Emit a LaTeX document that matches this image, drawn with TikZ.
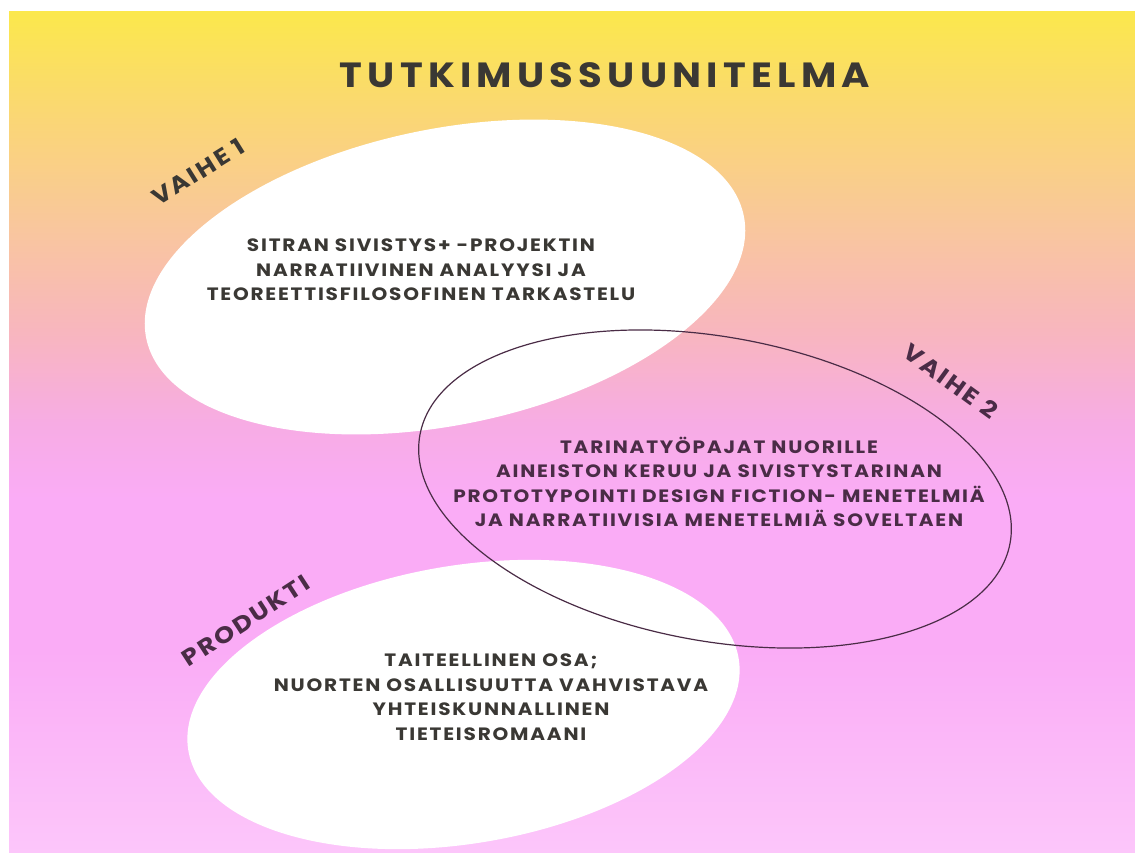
\documentclass[tikz,border=0pt]{standalone}
\usepackage{fontspec}
\newfontfamily\titlefont[LetterSpace=15,FakeStretch=1.1]{Poppins}
\newfontfamily\boxfont[LetterSpace=10,FakeStretch=1.12]{Poppins}
\newfontfamily\phasefont[LetterSpace=10,FakeStretch=1.12]{Poppins}
\definecolor{inkgrey}{RGB}{58,56,52}
\definecolor{inkplum}{RGB}{74,44,70}
\definecolor{bgyellow}{RGB}{251,232,76}
\definecolor{bgsand}{RGB}{250,214,118}
\definecolor{bgpeach}{RGB}{249,198,158}
\definecolor{bgrose}{RGB}{248,182,190}
\definecolor{bgorchid}{RGB}{247,172,228}
\definecolor{bgpink}{RGB}{250,172,246}
\definecolor{bglight}{RGB}{252,198,250}
% the path is fitted to 25bp..75bp of the shading
\pgfdeclareverticalshading{bgfade}{100bp}{color(0bp)=(bglight); color(25bp)=(bglight); color(37bp)=(bgpink); color(46bp)=(bgpink); color(50.5bp)=(bgorchid); color(56bp)=(bgrose); color(62bp)=(bgpeach); color(68.5bp)=(bgsand); color(75bp)=(bgyellow); color(100bp)=(bgyellow)}
\begin{document}
\begin{tikzpicture}[x=1pt,y=1pt,line join=round,line cap=round]
    \tikzset{box text/.style={font=\boxfont\bfseries\fontsize{17.9}{24.5}\selectfont,align=center,text=inkgrey},
        phase/.style={font=\phasefont\bfseries\fontsize{23}{23}\selectfont,text=inkgrey,inner sep=0pt}}
    \useasboundingbox (0,0) rectangle (1135,-852);
    \fill[white] (0,0) rectangle (1135,-852);
    \shade[shading=bgfade] (9,-11) rectangle (1135,-852);
    \begin{scope}
        \clip (9,-11) rectangle (1135,-852);
        \fill[white,rotate around={11.6:(445,-277)}] (445,-277) ellipse (305 and 148);
        \fill[white,rotate around={9.5:(463.5,-704.5)}] (463.5,-704.5) ellipse (279 and 139);
        \draw[inkplum,line width=1.2pt,rotate around={-10.4:(715,-489)}] (715,-489) ellipse (300 and 152);
    \end{scope}
    \node[font=\titlefont\bfseries\fontsize{35}{35}\selectfont,text=inkgrey] (title) at (605,-75) {TUTKIMUSSUUNITELMA};
    \node[phase,rotate=32] (vaihe1) at (198,-172) {VAIHE 1};
    \node[phase,rotate=-36,text=inkplum] (vaihe2) at (951,-381) {VAIHE 2};
    \node[phase,rotate=33,text=inkplum] (produkti) at (246,-621) {PRODUKTI};
    \node[box text] (sitra) at (421,-270) {SITRAN SIVISTYS+ -PROJEKTIN\\NARRATIIVINEN ANALYYSI JA\\TEOREETTISFILOSOFINEN TARKASTELU};
    \node[box text,text=inkplum] (pajat) at (719,-482) {TARINATYÖPAJAT NUORILLE\\AINEISTON KERUU JA SIVISTYSTARINAN\\PROTOTYPOINTI DESIGN FICTION- MENETELMIÄ\\JA NARRATIIVISIA MENETELMIÄ SOVELTAEN};
    \node[box text] (romaani) at (491,-697) {TAITEELLINEN OSA;\\NUORTEN OSALLISUUTTA VAHVISTAVA\\YHTEISKUNNALLINEN\\TIETEISROMAANI};
\end{tikzpicture}
\end{document}
